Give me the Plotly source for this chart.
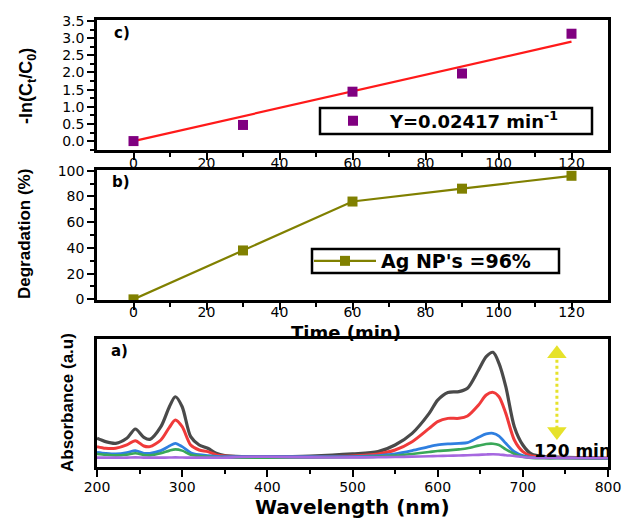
import plotly.graph_objects as go

# ---------------- data ----------------
# panel c: kinetics
time_c = [0, 30, 60, 90, 120]
lnc = [0.0, 0.47, 1.44, 1.97, 3.13]
rate_k = 0.02417
fit_t = [0, 120]
fit_y = [rate_k * t for t in fit_t]
legend_c_label = "Y=0.02417 min<sup>-1</sup>"

# panel b: degradation
time_b = [0, 30, 60, 90, 120]
degradation = [0, 38, 76, 86, 96]
legend_b_label = "Ag NP's =96%"

# panel a: UV-vis spectra (absorbance, arbitrary units)
wl = [200, 210, 222, 235, 245, 255, 262, 275, 285, 292, 300, 310, 320, 330, 340, 350,
      370, 400, 450, 500, 530, 550, 570, 590, 600, 612, 625, 635, 648, 657, 665, 672,
      680, 690, 700, 710, 725, 750, 800]
abs_0 = [0.224, 0.198, 0.185, 0.224, 0.297, 0.232, 0.216, 0.315, 0.471, 0.549, 0.471, 0.237,
         0.172, 0.146, 0.107, 0.089, 0.081, 0.081, 0.086, 0.102, 0.120, 0.172, 0.263, 0.419,
         0.523, 0.583, 0.589, 0.615, 0.758, 0.862, 0.896, 0.810, 0.628, 0.315, 0.172, 0.102,
         0.081, 0.076, 0.068]
abs_30 = [0.159, 0.146, 0.146, 0.172, 0.206, 0.164, 0.159, 0.211, 0.310, 0.367, 0.315, 0.172,
          0.133, 0.120, 0.094, 0.086, 0.081, 0.079, 0.081, 0.086, 0.102, 0.133, 0.198, 0.302,
          0.354, 0.380, 0.380, 0.398, 0.484, 0.562, 0.583, 0.549, 0.419, 0.211, 0.120, 0.086,
          0.076, 0.073, 0.068]
abs_60 = [0.115, 0.107, 0.102, 0.112, 0.128, 0.107, 0.107, 0.128, 0.164, 0.185, 0.159, 0.112,
          0.096, 0.089, 0.083, 0.081, 0.081, 0.080, 0.081, 0.081, 0.089, 0.102, 0.128, 0.159,
          0.172, 0.180, 0.185, 0.190, 0.232, 0.258, 0.263, 0.242, 0.185, 0.120, 0.089, 0.076,
          0.073, 0.071, 0.068]
abs_90 = [0.102, 0.096, 0.091, 0.096, 0.107, 0.094, 0.091, 0.107, 0.128, 0.138, 0.128, 0.096,
          0.086, 0.081, 0.076, 0.073, 0.073, 0.073, 0.073, 0.076, 0.081, 0.089, 0.102, 0.117,
          0.125, 0.130, 0.138, 0.146, 0.167, 0.180, 0.182, 0.172, 0.138, 0.102, 0.081, 0.071,
          0.068, 0.068, 0.066]
abs_120 = [0.073, 0.073, 0.073, 0.073, 0.075, 0.073, 0.073, 0.073, 0.074, 0.075, 0.074, 0.073,
           0.073, 0.073, 0.073, 0.073, 0.078, 0.080, 0.075, 0.075, 0.076, 0.078, 0.081, 0.084,
           0.086, 0.088, 0.090, 0.092, 0.095, 0.098, 0.100, 0.098, 0.092, 0.086, 0.078, 0.073,
           0.071, 0.070, 0.068]
spectra = [abs_0, abs_30, abs_60, abs_90, abs_120]
spectra_colors = ["#4a4a4a", "#f03a3a", "#2f7fe0", "#3aa858", "#a668e0"]
spectra_widths = [3.2, 3.0, 2.8, 2.6, 2.6]

arrow_wl = [740, 740]
arrow_y = [0.885, 0.278]
label_120 = "120 min"

W, H = 627, 518


def px(x):
    return x / W


def py(y):
    return 1 - y / H


fig = go.Figure()

# panel c
fig.add_trace(go.Scatter(x=fit_t, y=fit_y, mode="lines", line=dict(color="#ff1a1a", width=2.2),
                         xaxis="x", yaxis="y", showlegend=False))
fig.add_trace(go.Scatter(x=time_c, y=lnc, mode="markers", name=legend_c_label,
                         marker=dict(symbol="square", size=10, color="#800080"),
                         xaxis="x", yaxis="y", legend="legend"))
# panel b
fig.add_trace(go.Scatter(x=time_b, y=degradation, mode="lines+markers", name=legend_b_label,
                         line=dict(color="#808000", width=2.2),
                         marker=dict(symbol="square", size=10, color="#808000"),
                         xaxis="x2", yaxis="y2", legend="legend2"))
# panel a
for s, c, w in zip(spectra, spectra_colors, spectra_widths):
    fig.add_trace(go.Scatter(x=wl, y=s, mode="lines", line=dict(color=c, width=w, shape="spline",
                                                                 smoothing=0.8),
                             xaxis="x3", yaxis="y3", showlegend=False))
fig.add_trace(go.Scatter(x=arrow_wl, y=arrow_y, mode="lines+markers",
                         line=dict(color="#e6e22a", width=3, dash="dot"),
                         marker=dict(symbol=["triangle-up", "triangle-down"], size=17,
                                     color="#e6e22a"),
                         xaxis="x3", yaxis="y3", showlegend=False))

xdom = [px(97), px(608)]
tickfont = dict(family="DejaVu Sans", size=14, color="black")
common = dict(showline=True, linecolor="black", linewidth=2.5, mirror=True, ticks="outside",
              tickwidth=2, ticklen=7, tickcolor="black", showgrid=False, zeroline=False,
              tickfont=tickfont, automargin=False)

fig.update_layout(
    width=W, height=H, margin=dict(l=0, r=0, t=0, b=0, autoexpand=False),
    paper_bgcolor="white", plot_bgcolor="white",
    xaxis=dict(domain=xdom, anchor="y", range=[-10, 130], tickvals=[0, 20, 40, 60, 80, 100, 120],
               ticklabelstandoff=-9,
               minor=dict(tickvals=[10, 30, 50, 70, 90, 110], ticklen=4, tickwidth=2,
                          ticks="outside", tickcolor="black"), **common),
    yaxis=dict(domain=[py(150), py(20)], anchor="x", range=[-0.26, 3.53],
               tickvals=[0, 0.5, 1, 1.5, 2, 2.5, 3, 3.5], ticktext=["0.0", "0.5", "1.0", "1.5", "2.0", "2.5", "3.0", "3.5"],
               minor=dict(dtick=0.25, ticklen=4, tickwidth=2, ticks="outside", tickcolor="black"),
               **common),
    xaxis2=dict(domain=xdom, anchor="y2", range=[-10, 130], tickvals=[0, 20, 40, 60, 80, 100, 120],
                ticklabelstandoff=-10,
                minor=dict(tickvals=[10, 30, 50, 70, 90, 110], ticklen=4, tickwidth=2,
                           ticks="outside", tickcolor="black"), **common),
    yaxis2=dict(domain=[py(300), py(170)], anchor="x2", range=[-0.5, 100.5],
                tickvals=[0, 20, 40, 60, 80, 100],
                minor=dict(dtick=10, ticklen=4, tickwidth=2, ticks="outside", tickcolor="black"),
                **common),
    xaxis3=dict(domain=xdom, anchor="y3", range=[200, 800], tickvals=[200, 300, 400, 500, 600, 700, 800],
                ticklabelstandoff=-2,
                minor=dict(dtick=50, ticklen=4, tickwidth=2, ticks="outside", tickcolor="black"),
                **common),
    yaxis3=dict(domain=[py(467), py(339)], anchor="x3", range=[0, 1], showline=True,
                linecolor="black", linewidth=2.5, mirror=True, ticks="", showticklabels=False,
                showgrid=False, zeroline=False, automargin=False),
    legend=dict(x=px(316), y=py(121), xanchor="left", yanchor="middle", bgcolor="rgba(0,0,0,0)",
                borderwidth=0, itemwidth=64,
                font=dict(family="DejaVu Sans", size=18, color="black", weight="bold")),
    legend2=dict(x=px(309), y=py(261), xanchor="left", yanchor="middle", bgcolor="rgba(0,0,0,0)",
                 borderwidth=0, itemwidth=62,
                 font=dict(family="DejaVu Sans", size=19, color="black", weight="bold")),
)

# legend boxes
fig.add_shape(type="rect", xref="paper", yref="paper", x0=px(320), x1=px(592), y0=py(134), y1=py(108),
              line=dict(color="black", width=2.5))
fig.add_shape(type="rect", xref="paper", yref="paper", x0=px(312), x1=px(559), y0=py(273), y1=py(249),
              line=dict(color="black", width=2.5))

bold = dict(family="DejaVu Sans", color="black", weight="bold")
ann = [
    dict(text="c)", x=px(122), y=py(33), size=15),
    dict(text="b)", x=px(121), y=py(182), size=15),
    dict(text="a)", x=px(119), y=py(351), size=15),
    dict(text="Time (min)", x=px(346), y=py(332), size=18),
    dict(text="Wavelength (nm)", x=px(352), y=py(507), size=20),
    dict(text=label_120, x=px(572), y=py(451), size=17),
]
for a in ann:
    fig.add_annotation(text=a["text"], x=a["x"], y=a["y"], xref="paper", yref="paper",
                       showarrow=False, xanchor="center", yanchor="middle",
                       font=dict(size=a["size"], **bold))

narrow = dict(family="Liberation Sans Narrow, Liberation Sans", color="black", weight="bold")
for t, x, y, s in [("-ln(C<sub>t</sub>/C<sub>0</sub>)", 27, 86, 18),
                   ("Degradation (%)", 24, 234, 17),
                   ("Absorbance (a.u)", 67, 403, 17)]:
    fig.add_annotation(text=t, x=px(x), y=py(y), xref="paper", yref="paper", showarrow=False,
                       textangle=-90, xanchor="center", yanchor="middle", font=dict(size=s, **narrow))

fig.write_html("out.html")
